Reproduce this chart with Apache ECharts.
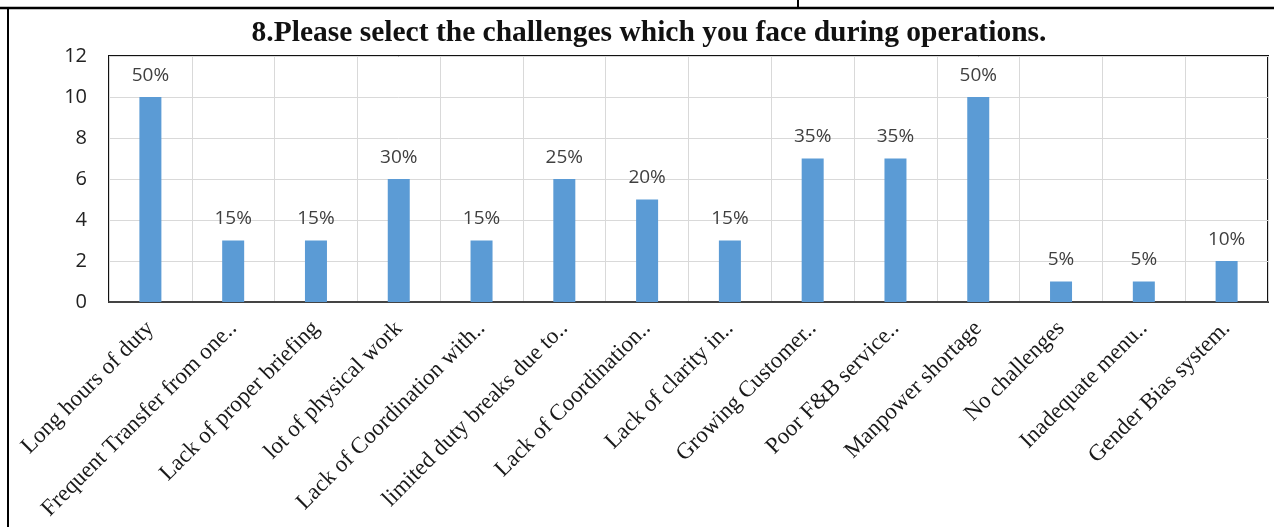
<!DOCTYPE html>
<html>
<head>
<meta charset="utf-8">
<style>
  html, body { margin: 0; padding: 0; background: #fff; }
  #chart { width: 1274px; height: 527px; }
</style>
<script src="https://cdn.jsdelivr.net/npm/echarts@6/dist/echarts.min.js"></script>
</head>
<body>
<div id="chart"></div>
<script>
// Challenges faced during operations: respondent counts and their share
const categories = [
  'Long hours of duty',
  'Frequent Transfer from one..',
  'Lack of proper briefing',
  'lot of physical work',
  'Lack of Coordination with..',
  'limited duty breaks due to..',
  'Lack of Coordination..',
  'Lack of clarity in..',
  'Growing Customer..',
  'Poor F&B service..',
  'Manpower shortage',
  'No challenges',
  'Inadequate menu..',
  'Gender Bias system.'
];
const counts = [10, 3, 3, 6, 3, 6, 5, 3, 7, 7, 10, 1, 1, 2];
const shareLabels = ['50%', '15%', '15%', '30%', '15%', '25%', '20%', '15%', '35%', '35%', '50%', '5%', '5%', '10%'];
const yTicks = [0, 2, 4, 6, 8, 10, 12];

const chart = echarts.init(document.getElementById('chart'), null, { renderer: 'canvas' });

chart.setOption({
  backgroundColor: '#ffffff',
  animation: false,
  title: {
    text: '8.Please select the challenges which you face during operations.',
    left: 644,
    textAlign: 'center',
    top: 13,
    textStyle: {
      fontFamily: '"Liberation Serif", "Times New Roman", serif',
      fontWeight: 'bold',
      fontSize: 29.5,
      color: '#111'
    }
  },
  graphic: [
    // page frame lines around the figure
    { type: 'line', shape: { x1: 0, y1: 8, x2: 1274, y2: 8 }, style: { stroke: '#000', lineWidth: 2.5 } },
    { type: 'line', shape: { x1: 8, y1: 8, x2: 8, y2: 527 }, style: { stroke: '#000', lineWidth: 2 } },
    { type: 'line', shape: { x1: 798, y1: 0, x2: 798, y2: 8 }, style: { stroke: '#000', lineWidth: 2 } }
  ],
  grid: {
    left: 109,
    right: 6,
    top: 56,
    bottom: 225,
    show: true,
    borderColor: '#111',
    borderWidth: 2,
    containLabel: false
  },
  xAxis: {
    type: 'category',
    data: categories,
    boundaryGap: true,
    axisLine: { show: true, lineStyle: { color: '#444', width: 2 } },
    axisTick: { show: false },
    splitLine: { show: true, lineStyle: { color: '#d9d9d9', width: 1 } },
    axisLabel: {
      interval: 0,
      rotate: 45,
      margin: 23,
      fontFamily: '"Liberation Serif", "Times New Roman", serif',
      fontSize: 23,
      color: '#1a1a1a'
    }
  },
  yAxis: {
    type: 'value',
    min: yTicks[0],
    max: yTicks[yTicks.length - 1],
    interval: 2,
    axisLine: { show: false },
    axisTick: { show: false },
    splitLine: { show: true, lineStyle: { color: '#d9d9d9', width: 1 } },
    axisLabel: {
      margin: 22,
      fontFamily: '"Open Sans", "Noto Sans", sans-serif',
      fontSize: 20,
      color: '#222'
    }
  },
  series: [{
    type: 'bar',
    data: counts,
    barWidth: 22,
    itemStyle: { color: '#5b9bd5' },
    label: {
      show: true,
      position: 'top',
      distance: 12,
      formatter: (p) => shareLabels[p.dataIndex],
      fontFamily: '"Open Sans", "Noto Sans", sans-serif',
      fontSize: 19,
      color: '#404040'
    }
  }]
});
</script>
</body>
</html>
